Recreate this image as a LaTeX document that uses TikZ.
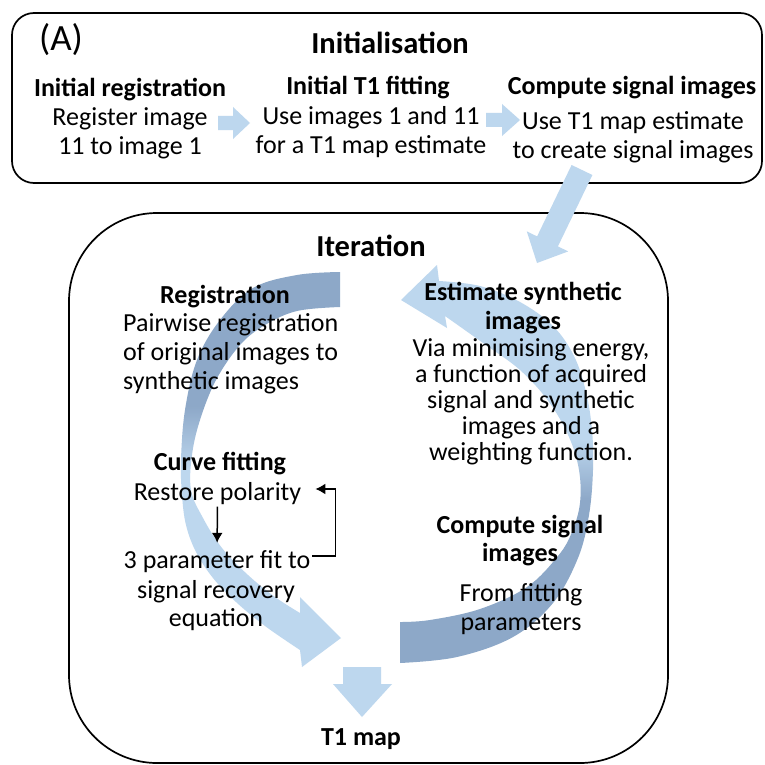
\documentclass[tikz,border=0pt]{standalone}
\usepackage{fontspec}
\setmainfont{Carlito}
\usetikzlibrary{arrows.meta}
\definecolor{lightB}{RGB}{189,215,238}
\definecolor{darkB}{RGB}{141,168,200}
% ribbon shadings: dark back face fading into the light front face
\pgfdeclareverticalshading{leftarcshade}{100bp}{color(0bp)=(lightB); color(50bp)=(lightB); color(58bp)=(darkB); color(100bp)=(darkB)}
\pgfdeclareverticalshading{rightarcshade}{100bp}{color(0bp)=(darkB); color(45.5bp)=(darkB); color(53bp)=(lightB); color(100bp)=(lightB)}

\tikzset{
  boxframe/.style={draw=black, line width=1.7pt},
  bodytxt/.style={font=\fontsize{26}{29}\selectfont, align=center, inner sep=0pt},
  headtxt/.style={font=\bfseries\fontsize{26}{29}\selectfont, align=center, inner sep=0pt},
  titletxt/.style={font=\bfseries\fontsize{30.5}{34}\selectfont, inner sep=0pt},
  oneline/.style={text height=19pt, text depth=6pt},
  smallarrow/.style={line width=1.5pt, -{Latex[length=10pt,width=11pt]}},
  blockfill/.style={fill=lightB},
}

\begin{document}
\begin{tikzpicture}[x=1pt,y=-1pt]
\useasboundingbox (0,0) rectangle (764,765);
\fill[white] (0,0) rectangle (764,765);

% frames
\draw[boxframe, rounded corners=22pt] (12,13) rectangle (762,183);
\draw[boxframe, rounded corners=88pt] (69,213) rectangle (668,763);

% curved ribbon arrows of the iteration loop
\shade[shading=leftarcshade]
  (340,272) -- plot[smooth, tension=0.6] coordinates {(340,272) (297,275) (253,288) (220,320) (197,360) (185,410) (181,460) (182,495) (186,525) (196,552) (213,578) (236,602) (265,626) (300,650)}
  -- (302,667) -- (341,638) -- (300,597) -- (300,613)
  -- plot[smooth, tension=0.6] coordinates {(300,613) (275,597) (248,575) (222,548) (203,518) (191,490) (192,455) (200,420) (216,380) (240,345) (265,325) (297,311) (340,307)}
  -- cycle;
\shade[shading=rightarcshade]
  (400,663) -- plot[smooth, tension=0.6] coordinates {(400,663) (457,657) (513,637) (553,603) (578,558) (589,515) (593,470) (592,430) (586,392) (574,356) (553,326) (520,302) (480,286) (439,281)}
  -- (437,265) -- (401,300) -- (447,328) -- (445,316)
  -- plot[smooth, tension=0.6] coordinates {(445,316) (483,343) (520,370) (549,402) (569,437) (579,470) (580,503) (572,532) (558,556) (527,587) (480,609) (430,620) (400,622)}
  -- cycle;

% block arrows
\fill[blockfill] (218,116) -- (233,116) -- (233,107) -- (250,123) -- (233,139) -- (233,130) -- (218,130) -- cycle;
\fill[blockfill] (486,113) -- (502,113) -- (502,104) -- (520,120) -- (502,136) -- (502,127) -- (486,127) -- cycle;
\fill[blockfill] (571.6,165) -- (537.1,236.4) -- (526.8,231.4) -- (537,263) -- (568.2,251.4) -- (557.9,246.4) -- (592.4,175) -- cycle;
\fill[blockfill] (343,667) -- (381,667) -- (381,684) -- (392,684) -- (362,717) -- (333,684) -- (343,684) -- cycle;

% initialisation stage
\node[font=\fontsize{37}{40}\selectfont, inner sep=0pt] (panel) at (61,40) {(A)};
\node[titletxt] (init) at (390,43) {Initialisation};
\node[headtxt] (regH) at (130,89.5) {Initial registration};
\node[bodytxt] (regB) at (130,133.5) {Register image\\11 to image 1};
\node[headtxt] (fitH) at (368,87.5) {Initial T1 fitting};
\node[bodytxt] (fitB) at (371,132.5) {Use images 1 and 11\\for a T1 map estimate};
\node[headtxt] (sigH) at (632,87.5) {Compute signal images};
\node[bodytxt] (sigB) at (633,137) {Use T1 map estimate\\to create signal images};

% iteration stage
\node[titletxt] (iter) at (371,245.5) {Iteration};
\node[headtxt] (rgH) at (225,296.5) {Registration};
\node[bodytxt, align=left, anchor=west] (rgB) at (123,354) {Pairwise registration\\of original images to\\synthetic images};
\node[headtxt] (cfH) at (220,463.5) {Curve fitting};
\node[bodytxt, oneline] (restore) at (217.5,494) {Restore polarity};
\node[bodytxt, oneline] (param) at (217,562) {3 parameter fit to};
\node[bodytxt, font=\fontsize{26}{27.5}\selectfont] (paramB) at (216,605.5) {signal recovery\\equation};
\node[headtxt] (esH) at (523,308) {Estimate synthetic\\images};
\node[bodytxt, font=\fontsize{26}{26}\selectfont] (esB) at (531,402) {Via minimising energy,\\a function of acquired\\signal and synthetic\\images and a\\weighting function.};
\node[headtxt, font=\bfseries\fontsize{26}{28}\selectfont] (csH) at (520,541) {Compute signal\\images};
\node[bodytxt] (csB) at (521,609.5) {From fitting\\parameters};
\node[headtxt] (t1) at (361,739.5) {T1 map};

% curve fitting loop
\draw[smallarrow, shorten >=6.5pt] (restore) -- (param);
\draw[smallarrow] ([xshift=2pt,yshift=6pt]param.east) -- ++(23,0) |- ([xshift=14pt,yshift=5pt]restore.east);
\end{tikzpicture}
\end{document}
